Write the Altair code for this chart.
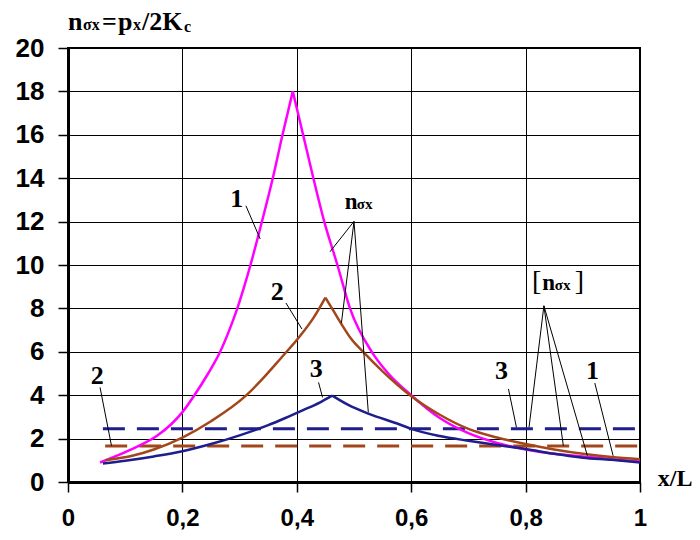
import altair as alt
import pandas as pd

# ---- curve data (x/L, n_sigma_x) ----
x_curve1 = [0.056, 0.09, 0.12, 0.155, 0.18, 0.2, 0.221, 0.245, 0.266, 0.282, 0.296, 0.308, 0.319,
            0.339, 0.358, 0.375, 0.393, 0.411, 0.429, 0.448, 0.471, 0.493, 0.531, 0.56, 0.6,
            0.65, 0.7, 0.75, 0.8, 0.85, 0.9, 0.95, 1.0]
y_curve1 = [0.90, 1.26, 1.62, 2.12, 2.65, 3.22, 4.0, 5.0, 6.0, 7.0, 8.0, 9.0, 10.0,
            12.0, 14.0, 16.0, 18.0, 16.0, 14.0, 12.0, 10.0, 8.0, 6.0, 5.0, 4.0,
            2.95, 2.25, 1.8, 1.5, 1.3, 1.18, 1.05, 0.95]
peak1 = 0.393

x_curve2 = [0.065, 0.114, 0.15, 0.2, 0.25, 0.312, 0.34, 0.371, 0.406, 0.43, 0.45, 0.465, 0.478,
            0.495, 0.516, 0.55, 0.598, 0.65, 0.7, 0.75, 0.8, 0.85, 0.9, 0.95, 1.0]
y_curve2 = [1.0, 1.22, 1.5, 2.05, 2.8, 4.0, 4.75, 5.67, 6.74, 7.6, 8.5, 7.85, 7.28,
            6.6, 6.0, 5.1, 4.0, 3.1, 2.45, 2.05, 1.75, 1.5, 1.3, 1.15, 1.05]
peak2 = 0.45

x_curve3 = [0.061, 0.1, 0.15, 0.2, 0.25, 0.3, 0.35, 0.38, 0.41, 0.44, 0.462, 0.49, 0.525,
            0.58, 0.6, 0.65, 0.7, 0.75, 0.8, 0.85, 0.9, 0.95, 1.0]
y_curve3 = [0.85, 0.98, 1.18, 1.42, 1.75, 2.15, 2.62, 2.95, 3.3, 3.66, 3.98, 3.55, 3.15,
            2.65, 2.45, 2.12, 1.9, 1.7, 1.52, 1.3, 1.12, 1.02, 0.9]
peak3 = 0.462

curve_names = ["1", "2", "3"]
curve_colors = ["#FF00FF", "#A3461A", "#1E1E8C"]

# allowable limits [n_sigma_x]
limit_names = ["3", "2"]
limit_values = [2.45, 1.66]
limit_start = [0.061, 0.065]
limit_colors = ["#1E1E8C", "#A3461A"]

# tick values
x_ticks = [0, 0.2, 0.4, 0.6, 0.8, 1.0]
y_ticks = [0, 2, 4, 6, 8, 10, 12, 14, 16, 18, 20]

# ---- annotations (data units) ----
label_text = ["1", "2", "3", "2", "3", "1"]
label_x = [0.295, 0.366, 0.434, 0.051, 0.758, 0.917]
label_y = [13.04, 8.74, 5.21, 4.88, 5.13, 5.13]

leader_x = [0.311, 0.381, 0.438, 0.056, 0.770, 0.921, 0.500, 0.500, 0.500, 0.832, 0.832, 0.832]
leader_y = [12.73, 8.25, 4.59, 4.36, 4.29, 4.56, 12.01, 12.01, 12.01, 8.12, 8.12, 8.12]
leader_x2 = [0.336, 0.409, 0.445, 0.076, 0.784, 0.953, 0.458, 0.478, 0.525, 0.806, 0.866, 0.908]
leader_y2 = [11.2, 7.05, 3.9, 1.67, 2.52, 1.21, 10.61, 7.33, 3.21, 2.52, 1.67, 1.21]

piece_text = ["n", "σx", "=", "p", "x", "/2K", "c", "n", "σx", "n", "σx", "x/L"]
piece_x = [0.0, 0.0262, 0.0594, 0.0874, 0.1136, 0.1294, 0.2028, 0.484, 0.505, 0.829, 0.851, 1.031]
piece_y = [20.83, 20.83, 20.83, 20.83, 20.83, 20.83, 20.72, 12.58, 12.58, 8.86, 8.86, -0.18]
piece_size = [26, 16, 26, 26, 16, 26, 16, 23, 15, 23, 15, 24]

bracket_text = ["[", "]"]
bracket_x = [0.811, 0.886]
bracket_y = [8.85, 8.85]

# ---- build tables ----
rows = []
for name, xs, ys, pk in zip(curve_names, [x_curve1, x_curve2, x_curve3],
                            [y_curve1, y_curve2, y_curve3], [peak1, peak2, peak3]):
    for i, (a, b) in enumerate(zip(xs, ys)):
        if a <= pk:
            rows.append({"curve": name, "branch": name + "L", "x": a, "y": b, "o": i})
        if a >= pk:
            rows.append({"curve": name, "branch": name + "R", "x": a, "y": b, "o": i})
curves = pd.DataFrame(rows)

limits = pd.DataFrame({"curve": limit_names, "y": limit_values, "x": limit_start,
                       "x2": [1.0] * len(limit_names)})
labels = pd.DataFrame({"t": label_text, "x": label_x, "y": label_y})
leaders = pd.DataFrame({"x": leader_x, "y": leader_y, "x2": leader_x2, "y2": leader_y2})
pieces = pd.DataFrame({"t": piece_text, "x": piece_x, "y": piece_y, "s": piece_size})
brackets = pd.DataFrame({"t": bracket_text, "x": bracket_x, "y": bracket_y})

xscale = alt.Scale(domain=[0, 1], nice=False, zero=False)
yscale = alt.Scale(domain=[0, 20], nice=False)

xaxis = alt.Axis(values=x_ticks, title=None,
                 labelExpr="datum.value == 0 ? '0' : (datum.value == 1 ? '1' : '0,' + round(datum.value * 10))",
                 labelPadding=14, labelFlush=False, labelFontSize=24)
yaxis = alt.Axis(values=y_ticks, title=None, labelPadding=14)

color = alt.Color("curve:N", scale=alt.Scale(domain=curve_names, range=curve_colors), legend=None)

base_x = alt.X("x:Q", scale=xscale, axis=xaxis)
base_y = alt.Y("y:Q", scale=yscale, axis=yaxis)

dash_layer = alt.Chart(limits).mark_rule(strokeWidth=3, strokeDash=[22, 12]).encode(
    x=base_x, x2="x2:Q", y=base_y,
    color=alt.Color("curve:N", scale=alt.Scale(domain=limit_names, range=limit_colors), legend=None),
)

curve_layer = alt.Chart(curves).mark_line(strokeWidth=2.5, interpolate="monotone").encode(
    x=base_x, y=base_y, color=color, order="o:Q", detail="branch:N"
)

leader_layer = alt.Chart(leaders).mark_rule(color="black", strokeWidth=1).encode(
    x=base_x, y=base_y, x2="x2:Q", y2="y2:Q"
)

label_layer = alt.Chart(labels).mark_text(
    font="Liberation Serif", fontWeight="bold", fontSize=26, color="black",
    align="center", baseline="middle"
).encode(x=base_x, y=base_y, text="t:N")

piece_layer = alt.Chart(pieces).mark_text(
    font="Liberation Serif", fontWeight="bold", color="black",
    align="left", baseline="alphabetic"
).encode(x=base_x, y=base_y, text="t:N", size=alt.Size("s:Q", scale=None))

bracket_layer = alt.Chart(brackets).mark_text(
    font="Liberation Serif", fontWeight="normal", fontSize=28, color="black",
    align="left", baseline="alphabetic"
).encode(x=base_x, y=base_y, text="t:N")

chart = alt.layer(
    dash_layer, curve_layer, leader_layer, label_layer, piece_layer, bracket_layer
).resolve_scale(color="independent").properties(
    width=572, height=434,
    autosize=alt.AutoSizeParams(type="none"),
    padding={"left": 60, "top": 40, "right": 52, "bottom": 50},
).configure_axis(
    domainColor="black", domainWidth=3,
    tickColor="black", tickWidth=1.5, tickSize=10,
    gridColor="black", gridWidth=1, gridOpacity=1,
    labelFont="Liberation Sans", labelFontWeight="bold", labelFontSize=26, labelColor="black",
).configure_view(stroke="black", strokeWidth=2)

chart.save("out.html", embed_options={"renderer": "svg", "actions": False})
